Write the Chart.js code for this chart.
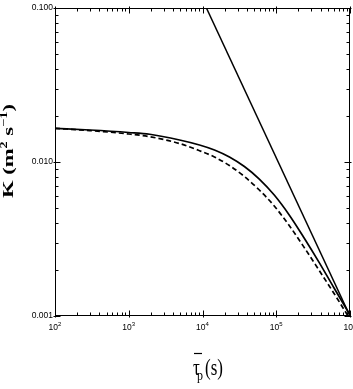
<!DOCTYPE html>
<html><head><meta charset="utf-8">
<script src="https://cdn.jsdelivr.net/npm/chart.js@4/dist/chart.umd.min.js"></script>
<style>html,body{margin:0;padding:0;background:#fff;overflow:hidden}
#wrap{position:relative;width:353px;height:389px}</style>
</head><body><div id="wrap"><canvas id="c" width="353" height="389"></canvas></div>
<script>
// ---- data ----
const tauSolid = [100, 297, 1000, 1923, 4890, 9110, 14530, 23170, 36980, 58930, 93980, 149900, 238900, 381000, 608000, 1000000];
const kSolid   = [0.01655, 0.01614, 0.01555, 0.01514, 0.0139, 0.0129, 0.01197, 0.01078, 0.00935, 0.00775, 0.0061, 0.00453, 0.00321, 0.00223, 0.00152, 0.001015];
const tauDashed = [100, 297, 1000, 1923, 4890, 9110, 14530, 23170, 36980, 58930, 93980, 149900, 238900, 381000, 608000, 940000];
const kDashed   = [0.01655, 0.0160, 0.0152, 0.0146, 0.01318, 0.01184, 0.01078, 0.00949, 0.00805, 0.00658, 0.00518, 0.00387, 0.00279, 0.00198, 0.0014, 0.001];
const tauLine = [11300, 1000000];
const kLine   = [0.1, 0.001];
const xTickValues = [1e2, 1e3, 1e4, 1e5, 1e6];
const xTickExponents = ['2', '3', '4', '5', '6'];
const yTickValues = [0.001, 0.01, 0.1];
const yTickLabels = ['0.001', '0.010', '0.100'];
const minorMultipliers = [2, 3, 4, 5, 6, 7, 8, 9];

const pts = (xs, ys) => xs.map((x, i) => ({x: x, y: ys[i]}));

const decor = {
  id: 'decor',
  afterDraw(chart) {
    const ctx = chart.ctx;
    const {left, right, top, bottom} = chart.chartArea;
    const xs = chart.scales.x, ys = chart.scales.y;
    ctx.save();
    ctx.strokeStyle = '#000';
    ctx.lineWidth = 1;
    const L = Math.round(left) + 0.5, R = Math.round(right) - 0.5, T = Math.round(top) + 0.5, B = Math.round(bottom) - 0.5;
    ctx.strokeRect(L, T, R - L, B - T);
    ctx.beginPath();
    for (let d = 2; d <= 6; d++) {
      const base = Math.pow(10, d);
      const px = Math.round(xs.getPixelForValue(base)) + 0.5;
      ctx.moveTo(px, B + 2); ctx.lineTo(px, B - 5);
      ctx.moveTo(px, T - 2); ctx.lineTo(px, T + 5);
      if (d < 6) {
        for (const m of minorMultipliers) {
          const p = Math.round(xs.getPixelForValue(m * base)) + 0.5;
          ctx.moveTo(p, B); ctx.lineTo(p, B - 3);
          ctx.moveTo(p, T); ctx.lineTo(p, T + 3);
        }
      }
    }
    for (let d = -3; d <= -1; d++) {
      const base = Math.pow(10, d);
      const py = Math.round(ys.getPixelForValue(base)) + 0.5;
      ctx.moveTo(L - 2, py); ctx.lineTo(L + 5, py);
      ctx.moveTo(R + 2, py); ctx.lineTo(R - 5, py);
      if (d < -1) {
        for (const m of minorMultipliers) {
          const p = Math.round(ys.getPixelForValue(m * base)) + 0.5;
          ctx.moveTo(L, p); ctx.lineTo(L + 3, p);
          ctx.moveTo(R, p); ctx.lineTo(R - 3, p);
        }
      }
    }
    ctx.stroke();

    // x tick labels: 10 with superscript exponent
    ctx.fillStyle = '#000';
    ctx.textBaseline = 'alphabetic';
    ctx.textAlign = 'left';
    xTickValues.forEach((v, i) => {
      const px = xs.getPixelForValue(v);
      ctx.font = '8.5px "Liberation Sans", Arial, sans-serif';
      const w1 = ctx.measureText('10').width;
      ctx.font = '6px "Liberation Sans", Arial, sans-serif';
      const w2 = ctx.measureText(xTickExponents[i]).width;
      const x0 = px - (w1 + w2) / 2;
      ctx.font = '8.5px "Liberation Sans", Arial, sans-serif';
      ctx.fillText('10', x0, bottom + 14);
      ctx.font = '6px "Liberation Sans", Arial, sans-serif';
      ctx.fillText(xTickExponents[i], x0 + w1, bottom + 10);
    });

    // x title: tau with overbar, subscript p, (s)
    const tx = 193, base = 375;
    ctx.save();
    ctx.translate(tx, base);
    ctx.scale(1, 1.3);
    ctx.font = '17px "Liberation Serif", "DejaVu Serif", serif';
    ctx.fillText('τ', 0, 0);
    ctx.fillText('(s)', 12, 0);
    ctx.font = '12px "Liberation Serif", "DejaVu Serif", serif';
    ctx.fillText('p', 4, 4);
    ctx.restore();
    ctx.beginPath();
    ctx.lineWidth = 1.2;
    ctx.moveTo(tx + 1, 353.5); ctx.lineTo(tx + 9, 353.5);
    ctx.stroke();

    // y title: K (m^2 s^-1), rotated
    const runs = [
      {t: 'K', s: 15, dy: 0},
      {t: ' (m', s: 15, dy: 0},
      {t: '2', s: 9.5, dy: -6},
      {t: ' s', s: 15, dy: 0},
      {t: '\u22121', s: 9.5, dy: -6},
      {t: ')', s: 15, dy: 0}
    ];
    let total = 0;
    runs.forEach(r => {
      ctx.font = 'bold ' + r.s + 'px "Liberation Serif", "DejaVu Serif", serif';
      r.w = ctx.measureText(r.t).width;
      total += r.w;
    });
    const startY = 198, endY = 104;
    const sx = (startY - endY) / total;
    ctx.save();
    ctx.translate(13, startY);
    ctx.rotate(-Math.PI / 2);
    ctx.scale(sx, 1);
    let cx = 0;
    runs.forEach(r => {
      ctx.font = 'bold ' + r.s + 'px "Liberation Serif", "DejaVu Serif", serif';
      ctx.fillText(r.t, cx, r.dy);
      cx += r.w;
    });
    ctx.restore();
    ctx.restore();
  }
};

new Chart(document.getElementById('c'), {
  type: 'scatter',
  data: {
    datasets: [
      {label: 'solid', data: pts(tauSolid, kSolid), showLine: true, borderColor: '#000', borderWidth: 1.7, pointRadius: 0, cubicInterpolationMode: 'monotone', fill: false},
      {label: 'dashed', data: pts(tauDashed, kDashed), showLine: true, borderColor: '#000', borderWidth: 1.7, borderDash: [5, 3], pointRadius: 0, cubicInterpolationMode: 'monotone', fill: false},
      {label: 'line', data: pts(tauLine, kLine), showLine: true, borderColor: '#000', borderWidth: 1.5, pointRadius: 0, fill: false}
    ]
  },
  options: {
    responsive: false,
    devicePixelRatio: 1,
    animation: false,
    layout: {padding: {top: 8, right: 3, left: 0, bottom: 0}},
    plugins: {legend: {display: false}, tooltip: {enabled: false}},
    scales: {
      x: {
        type: 'logarithmic', min: 100, max: 1e6,
        ticks: {display: false},
        grid: {display: false, drawTicks: false},
        border: {display: false},
        afterBuildTicks: s => { s.ticks = xTickValues.map(v => ({value: v})); },
        afterFit: s => { s.height = 73; }
      },
      y: {
        type: 'logarithmic', min: 0.001, max: 0.1,
        ticks: {
          display: true, autoSkip: false, padding: 2, color: '#000',
          font: {family: '"Liberation Sans", Arial, sans-serif', size: 8.5},
          callback: v => { const i = yTickValues.findIndex(t => Math.abs(t - v) / t < 1e-6); return i >= 0 ? yTickLabels[i] : ''; }
        },
        grid: {display: false, drawTicks: false},
        border: {display: false},
        afterBuildTicks: s => { s.ticks = yTickValues.map(v => ({value: v})); },
        afterFit: s => { s.width = 55; }
      }
    }
  },
  plugins: [decor]
});
</script>
</body></html>
